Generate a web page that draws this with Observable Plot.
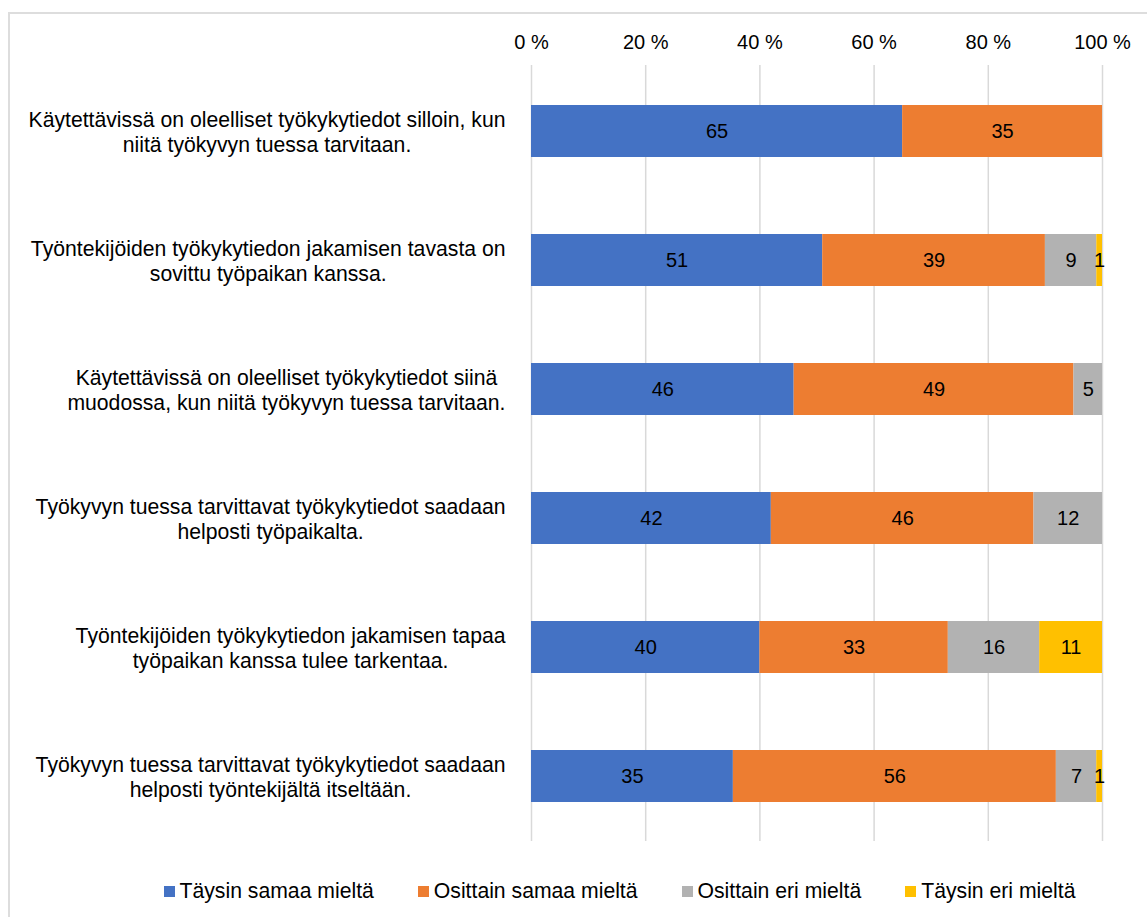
<!DOCTYPE html>
<html><head><meta charset="utf-8">
<script src="https://cdn.jsdelivr.net/npm/d3@7"></script>
<script src="https://cdn.jsdelivr.net/npm/@observablehq/plot@0.6"></script>
<style>
html,body{margin:0;padding:0;background:#fff;overflow:hidden;width:1147px;height:917px;font-family:"Liberation Sans",Arial,sans-serif;}
#frame{position:absolute;left:8px;top:12px;width:1300px;height:1000px;border:2px solid #DDDDDD;box-sizing:border-box;}
#chart{position:absolute;left:0;top:0;}
#legend{position:absolute;left:8px;width:1223px;top:879px;display:flex;justify-content:center;gap:44px;font-size:21.2px;color:#000;line-height:24px;}
.item{display:flex;align-items:center;}
.sw{width:11px;height:11px;margin-right:5px;}
</style></head><body>
<div id="frame"></div><div id="chart"></div><div id="legend"></div>
<script>
const categories = [
  "Käytettävissä on oleelliset työkykytiedot silloin, kun\nniitä työkyvyn tuessa tarvitaan.",
  "Työntekijöiden työkykytiedon jakamisen tavasta on\nsovittu työpaikan kanssa.",
  "Käytettävissä on oleelliset työkykytiedot siinä\nmuodossa, kun niitä työkyvyn tuessa tarvitaan.",
  "Työkyvyn tuessa tarvittavat työkykytiedot saadaan\nhelposti työpaikalta.",
  "Työntekijöiden työkykytiedon jakamisen tapaa\ntyöpaikan kanssa tulee tarkentaa.",
  "Työkyvyn tuessa tarvittavat työkykytiedot saadaan\nhelposti työntekijältä itseltään."
];
const series = ["Täysin samaa mieltä", "Osittain samaa mieltä", "Osittain eri mieltä", "Täysin eri mieltä"];
const colors = ["#4472C4", "#ED7D31", "#B2B2B2", "#FFC000"];
const taysinSamaa   = [65, 51, 46, 42, 40, 35];
const osittainSamaa = [35, 39, 49, 46, 33, 56];
const osittainEri   = [0, 9, 5, 12, 16, 7];
const taysinEri     = [0, 1, 0, 0, 11, 1];
const xTicks = [0, 0.2, 0.4, 0.6, 0.8, 1];
const xTickLabels = ["0 %", "20 %", "40 %", "60 %", "80 %", "100 %"];

const seriesValues = [taysinSamaa, osittainSamaa, osittainEri, taysinEri];
const data = [];
categories.forEach((c, i) => {
  series.forEach((s, j) => {
    const v = seriesValues[j][i];
    if (v > 0) data.push({category: c, series: s, value: v});
  });
});

const font = '"Liberation Sans", Arial, sans-serif';
const fs = 20;
const catFs = 21.2;
const ctx = document.createElement("canvas").getContext("2d");
ctx.font = `${catFs}px "Liberation Sans"`;
const blockWidth = c => Math.max(...c.split("\n").map(l => ctx.measureText(l).width));

const labelMarks = categories.map(c =>
  Plot.text([c], {
    y: d => d, text: d => d, frameAnchor: "left", textAnchor: "middle",
    dx: -26 - blockWidth(c) / 2, lineHeight: 25 / catFs, fontSize: catFs, fill: "#000"
  })
);

const stackOpts = {x: "value", y: "category", z: "series", offset: "normalize", order: series};

const chart = Plot.plot({
  width: 1147,
  height: 845,
  marginLeft: 531,
  marginRight: 45,
  marginTop: 65,
  marginBottom: 4,
  style: {fontFamily: font, fontSize: fs + "px", color: "#000", background: "transparent"},
  x: {domain: [0, 1], axis: null, label: null},
  y: {domain: categories, paddingInner: 0.6, paddingOuter: 0.3, axis: null, label: null},
  color: {domain: series, range: colors},
  marks: [
    Plot.gridX(xTicks, {stroke: "#D9D9D9", strokeOpacity: 1, strokeWidth: 1.5}),
    Plot.axisX(xTicks, {anchor: "top", tickSize: 0, tickPadding: 17, fontSize: fs, label: null,
      tickFormat: (d, i) => xTickLabels[i], fill: "#000"}),
    Plot.barX(data, Plot.stackX({...stackOpts, fill: "series"})),
    Plot.text(data, Plot.stackX({...stackOpts, text: d => String(d.value), fill: "#000", fontSize: fs})),
    ...labelMarks
  ]
});
document.getElementById("chart").appendChild(chart);

const legend = document.getElementById("legend");
series.forEach((s, j) => {
  const item = document.createElement("div");
  item.className = "item";
  const sw = document.createElement("span");
  sw.className = "sw";
  sw.style.background = colors[j];
  const t = document.createElement("span");
  t.textContent = s;
  item.appendChild(sw); item.appendChild(t);
  legend.appendChild(item);
});
</script>
</body></html>
